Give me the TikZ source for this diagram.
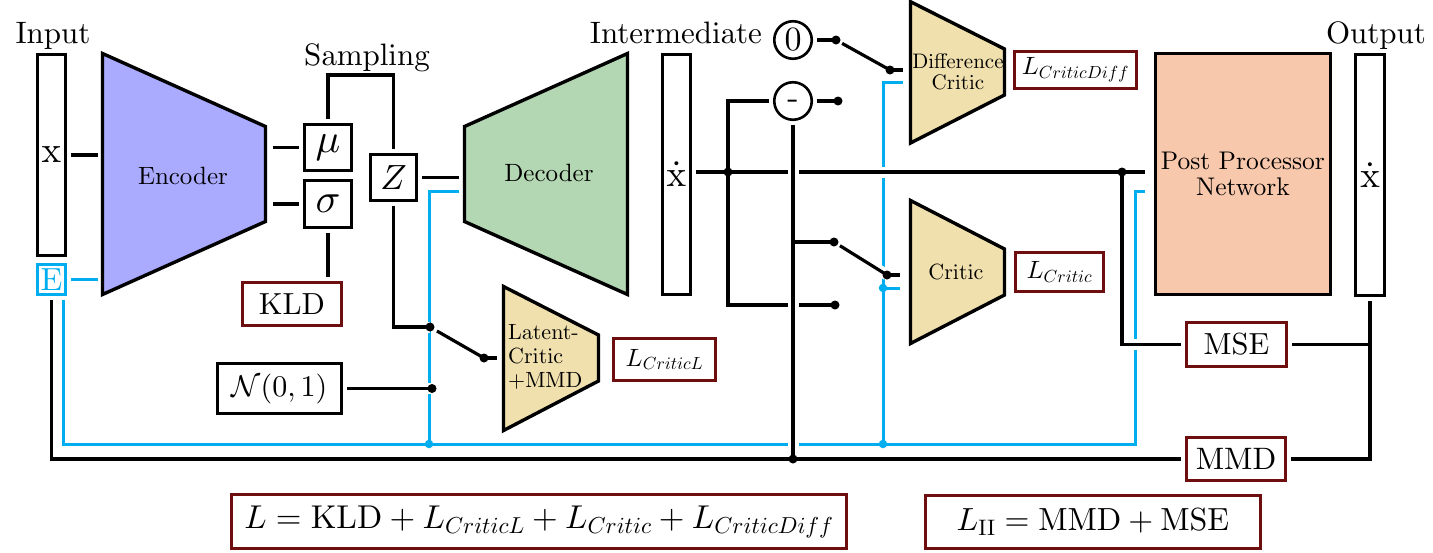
\documentclass[tikz,border=0pt]{standalone}
\renewcommand{\rmdefault}{cmr}
\usepackage[OT1]{fontenc}
\usetikzlibrary{calc}
\DeclareFontShape{OT1}{cmr}{m}{n}{<-> cmr10}{}
\DeclareFontShape{OML}{cmm}{m}{it}{<-> cmmi10}{}
\DeclareFontShape{OMS}{cmsy}{m}{n}{<-> cmsy10}{}
\DeclareFontShape{OMX}{cmex}{m}{n}{<-> cmex10}{}
\definecolor{encblue}{RGB}{170,170,255}
\definecolor{decgreen}{RGB}{179,214,179}
\definecolor{criticfill}{RGB}{240,224,174}
\definecolor{ppnfill}{RGB}{248,200,172}
\definecolor{lossred}{RGB}{110,14,14}
\definecolor{cyanline}{RGB}{0,174,239}
\newcommand{\myfs}[2]{\fontsize{#1}{#2}\selectfont}
\begin{document}
\begin{tikzpicture}[x=1pt,y=-1pt,
  box/.style={draw, line width=3pt, inner sep=0pt, outer sep=5pt, rectangle},
  lossbox/.style={box, draw=lossred, line width=2.8pt},
  circ/.style={draw, circle, line width=2.6pt, inner sep=0pt, outer sep=5pt, minimum size=37.5pt},
  conn/.style={line width=3.2pt},
  cconn/.style={line width=3pt, draw=cyanline},
  halo/.style={preaction={draw=white, line width=11pt}},
  dotn/.style={circle, fill=black, inner sep=0pt, outer sep=0pt, minimum size=9pt},
  cdot/.style={circle, fill=cyanline, inner sep=0pt, outer sep=0pt, minimum size=8.5pt},
  trap/.style={draw, line width=3.4pt, line join=miter},
  lbl/.style={font=\myfs{31}{34}, anchor=base, inner sep=0pt},
]
\useasboundingbox (0,0) rectangle (1433,552);

% ---------- trapezoids ----------
\filldraw[trap, fill=encblue] (102.5,53.5) -- (265.5,126.5) -- (265.5,221.5) -- (102.5,294.5) -- cycle;
\filldraw[trap, fill=decgreen] (464.5,126.5) -- (627.5,53.5) -- (627.5,294.5) -- (464.5,221.5) -- cycle;
\filldraw[trap, fill=criticfill] (503.5,286.5) -- (598.5,335) -- (598.5,381) -- (503.5,430.5) -- cycle;
\filldraw[trap, fill=criticfill] (910.5,1.7) -- (1004.5,49) -- (1004.5,95) -- (910.5,143) -- cycle;
\filldraw[trap, fill=criticfill] (910.5,200.5) -- (1004.5,249) -- (1004.5,295) -- (910.5,343.5) -- cycle;

\node[font=\myfs{25}{27}] (encl) at (183,176) {Encoder};
\node[font=\myfs{25}{27}] (decl) at (549,173) {Decoder};
\node[font=\myfs{22}{24}, align=left, anchor=west, inner sep=0pt] (latl) at (508,357) {Latent-\\Critic\\+MMD};
\node[font=\myfs{21}{21}, align=center, inner sep=0pt] (difl) at (958,72) {Difference\\Critic};
\node[font=\myfs{22}{24}] (crl) at (956,272) {Critic};

% ---------- boxes ----------
\node[box, minimum width=28.5pt, minimum height=201pt, font=\myfs{37}{37}] (inp) at (51.5,155) {x};
\node[box, draw=cyanline, text=cyanline, line width=2.7pt, minimum width=28.5pt, minimum height=30.5pt, font=\myfs{32}{32}] (Ebox) at (51.5,279.5) {E};
\node[box, minimum width=47.5pt, minimum height=46.5pt, font=\myfs{41}{41}] (mu) at (328,147.5) {$\mu$};
\node[box, minimum width=47.5pt, minimum height=47.5pt, font=\myfs{41}{41}] (sig) at (328,204) {$\sigma$};
\node[box, minimum width=46.5pt, minimum height=46.5pt, font=\myfs{35}{35}] (Z) at (393.5,177.5) {$Z$};
\node[lossbox, minimum width=99.5pt, minimum height=43.5pt, font=\myfs{30.5}{31}] (kld) at (292,304) {KLD};
\node[box, minimum width=124.5pt, minimum height=50.5pt, font=\myfs{30}{31}] (nbox) at (279.5,388.5) {$\mathcal{N}(0,1)$};
\node[lossbox, minimum width=102.5pt, minimum height=42.5pt, font=\myfs{25}{25}] (lcl) at (664.5,359.5) {$L_{CriticL}$};
\node[box, minimum width=28.5pt, minimum height=240.5pt, font=\myfs{37}{37}] (inter) at (676.5,174.5) {$\dot{\mathrm{x}}$};
\node[circ, font=\myfs{34}{34}] (zc) at (793,40) {0};
\node[circ, font=\myfs{34}{34}] (mc) at (793,101) {-};
\node[lossbox, minimum width=122.5pt, minimum height=37.5pt, font=\myfs{25}{25}] (lcd) at (1075.5,70) {$L_{CriticDiff}$};
\node[lossbox, minimum width=88.5pt, minimum height=39.5pt, font=\myfs{25}{25}] (lc) at (1059.5,272) {$L_{Critic}$};
\node[box, fill=ppnfill, minimum width=175.5pt, minimum height=241.5pt, align=center, font=\myfs{25.5}{26}] (ppn) at (1243,174) {Post Processor\\Network};
\node[box, minimum width=29.5pt, minimum height=241.5pt, font=\myfs{37}{37}] (out) at (1370,175) {$\dot{\mathrm{x}}$};
\node[lossbox, minimum width=100.5pt, minimum height=44.5pt, font=\myfs{30.5}{31}] (mse) at (1236.5,344.5) {MSE};
\node[lossbox, minimum width=99.5pt, minimum height=43.5pt, font=\myfs{31}{31}] (mmd) at (1236,459) {MMD};
\node[lossbox, minimum width=615.5pt, minimum height=54.5pt, font=\myfs{33}{33}] (f1) at (539,521.5) {$L=\mathrm{KLD}+L_{CriticL}+L_{Critic}+L_{CriticDiff}$};
\node[lossbox, minimum width=335.5pt, minimum height=53.5pt, font=\myfs{32}{32}] (f2) at (1093,522) {$L_{\mathrm{II}}=\mathrm{MMD}+\mathrm{MSE}$};

% ---------- labels ----------
\node[lbl] (linput) at (53,43) {Input};
\node[lbl] (lsamp) at (367,65) {Sampling};
\node[lbl] (linter) at (676,43) {Intermediate};
\node[lbl] (loutput) at (1376,43) {Output};

% ---------- coordinates ----------
\coordinate (encL) at (98,155);
\coordinate (encLE) at (98,281);
\coordinate (encR) at (273,0);
\coordinate (sampTop) at (360,75);
\coordinate (decB) at (459,175);
\coordinate (decC) at (459,191);
\coordinate (lcIn) at (497,358);
\coordinate (mainR) at (1145,172);
\coordinate (ppnC) at (1145,191);
\coordinate (dcIn) at (903,70);
\coordinate (dcC) at (903,82);
\coordinate (crIn) at (900,275);
\coordinate (crC) at (900,288);
\coordinate (b242) at (793,242);
\coordinate (cyC) at (1135,444);

% junction / switch points (drawn as dots at the end)
\coordinate (d1) at (728,172);
\coordinate (d2) at (1122,172);
\coordinate (k305) at (835,305);
\coordinate (k242) at (834,242);
\coordinate (k39) at (836,40);
\coordinate (k101) at (838,101);
\coordinate (p70) at (890,70);
\coordinate (p275) at (887,275);
\coordinate (kZ) at (430,327);
\coordinate (kN) at (432,388.5);
\coordinate (pL) at (484,358);
\coordinate (dB) at (793,459);
\coordinate (cyA) at (429,444);
\coordinate (cyB) at (883,444);
\coordinate (cyCr) at (883,288);

% ---------- cyan lines ----------
\draw[cconn] (Ebox.east) -- (Ebox.east -| encLE);
\draw[cconn] (decC) -| (cyA) -| ([xshift=11.5pt]Ebox.south);
\draw[cconn] (cyA) -- (cyB) -- (cyC) |- (ppnC);
\draw[cconn] (dcC) -| (cyB);
\draw[cconn] (cyCr) -- (crC);

% ---------- black lines ----------
\draw[conn, halo] (inter.east |- mainR) -- (mainR);
\draw[conn, preaction={draw=white, line width=11pt, shorten <=10pt}] (d2) |- (mse.west);
\draw[conn, halo] (Z.south) |- (kZ);
\draw[conn, halo] (nbox.east) -- (kN);
\draw[conn] (mc.west) -| (d1) |- (k305);
\draw[conn, halo] (mc.south) -- (dB);
\draw[conn] (b242) -- (k242);
\draw[conn, halo, shorten <=7pt] (k242) -- (p275);
\draw[conn] (p275) -- (crIn);
\draw[conn] (zc.east) -- (k39);
\draw[conn] (mc.east) -- (k101);
\draw[conn, shorten <=7pt] (k39) -- (p70);
\draw[conn] (p70) -- (dcIn);
\draw[conn, shorten <=8pt] (kZ) -- (pL);
\draw[conn] (pL) -- (lcIn);
\draw[conn] (Z.east) -- (Z.east -| decB);
\draw[conn] (inp.east) -- (encL);
\draw[conn] (encR |- mu.west) -- (mu.west);
\draw[conn] (encR |- sig.west) -- (sig.west);
\draw[conn] (mu.north) |- (sampTop) -| (Z.north);
\draw[conn] (sig.south) -- (sig.south |- kld.north);
\draw[conn] (mse.east) -- (mse.east -| out.south);
\draw[conn] (out.south) |- (mmd.east);
\draw[conn] (mmd.west) -| (Ebox.south);

% ---------- dots ----------
\foreach \p in {d1,d2,k305,k242,k39,k101,p70,p275,kZ,kN,pL,dB}
  \node[dotn] (n\p) at (\p) {};
\foreach \p in {cyA,cyB,cyCr}
  \node[cdot] (n\p) at (\p) {};
\end{tikzpicture}
\end{document}
